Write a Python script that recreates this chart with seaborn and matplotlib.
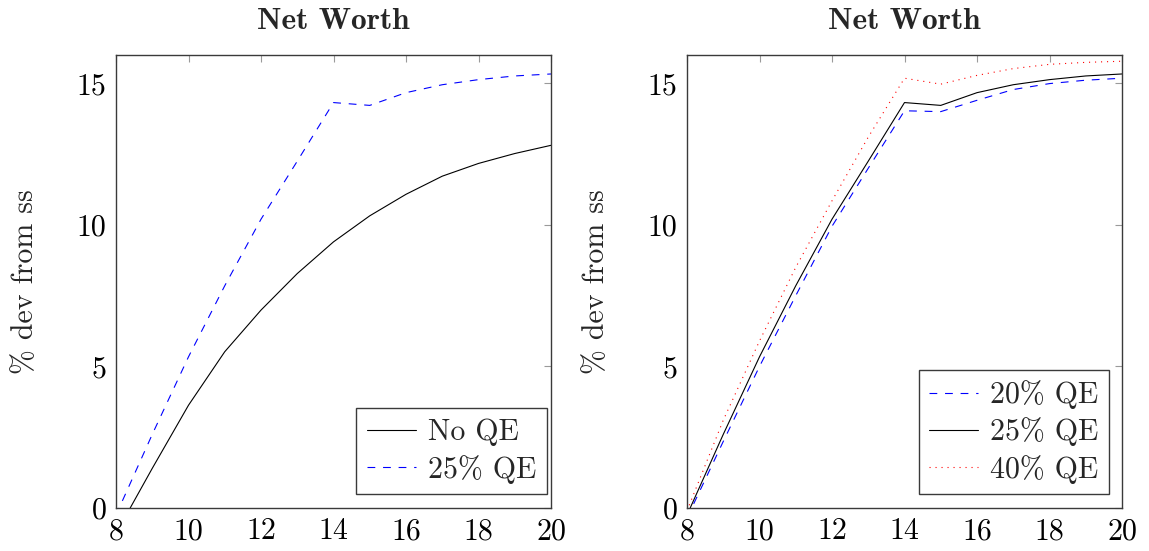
import matplotlib
matplotlib.use("Agg")
import matplotlib.pyplot as plt
import seaborn as sns
import pandas as pd

# Quarters after the shock
periods = [8, 9, 10, 11, 12, 13, 14, 15, 16, 17, 18, 19, 20]

# Net worth, % deviation from steady state
no_qe = [-0.9, 1.4, 3.63, 5.52, 6.99, 8.28, 9.40, 10.32, 11.08, 11.72, 12.17, 12.52, 12.81]
qe_20 = [-0.35, 2.35, 5.0, 7.5, 9.95, 12.0, 14.03, 14.0, 14.40, 14.78, 14.99, 15.11, 15.18]
qe_25 = [-0.25, 2.6, 5.34, 7.85, 10.2, 12.25, 14.32, 14.22, 14.67, 14.95, 15.13, 15.26, 15.33]
qe_40 = [-0.1, 3.1, 5.9, 8.5, 10.85, 13.1, 15.18, 14.97, 15.28, 15.52, 15.67, 15.74, 15.78]

x_ticks = [8, 10, 12, 14, 16, 18, 20]
y_ticks = [0, 5, 10, 15]
title = "Net Worth"
ylabel = "% dev from ss"

sns.set_style("white")
plt.rcParams["font.family"] = ["cmr10", "DejaVu Serif"]
plt.rcParams["axes.formatter.use_mathtext"] = True
plt.rcParams["mathtext.fontset"] = "cm"

FS = 21.5
W, H = 1149, 551
fig = plt.figure(figsize=(W / 100, H / 100), dpi=100)

def box(x0, x1, y0, y1):
    return [x0 / W, (H - y1) / H, (x1 - x0) / W, (y1 - y0) / H]

ax_l = fig.add_axes(box(116, 551, 55, 508))
ax_r = fig.add_axes(box(687, 1122, 55, 508))

dashed = (0, (7, 7))
dotted = (0, (1, 4.4))
LW = 0.8

left = pd.DataFrame({"t": periods, "No QE": no_qe, "25% QE": qe_25})
right = pd.DataFrame({"t": periods, "20% QE": qe_20, "25% QE": qe_25, "40% QE": qe_40})

sns.lineplot(data=left, x="t", y="No QE", ax=ax_l, color="black", lw=LW,
             label="No QE")
sns.lineplot(data=left, x="t", y="25% QE", ax=ax_l, color="#0000ff", lw=LW,
             linestyle=dashed, label="25% QE")

sns.lineplot(data=right, x="t", y="20% QE", ax=ax_r, color="#0000ff", lw=LW,
             linestyle=dashed, label="20% QE")
sns.lineplot(data=right, x="t", y="25% QE", ax=ax_r, color="black", lw=LW,
             label="25% QE")
sns.lineplot(data=right, x="t", y="40% QE", ax=ax_r, color="#ff0000", lw=LW,
             linestyle=dotted, label="40% QE")

for ax in (ax_l, ax_r):
    ax.set_xlim(8, 20)
    ax.set_ylim(0, 16)
    ax.set_xticks(x_ticks)
    ax.set_yticks(y_ticks)
    ax.set_xticklabels([str(v) for v in x_ticks])
    ax.set_yticklabels([str(v) for v in y_ticks])
    ax.tick_params(direction="in", length=5, width=0.8, color="#9a9a9a",
                   top=True, right=True, labelsize=FS, pad=7,
                   labelcolor="black")
    for sp in ax.spines.values():
        sp.set_visible(True)
        sp.set_color("#3a3a3a")
        sp.set_linewidth(1.0)
    ax.set_xlabel("")
    ax.set_ylabel(ylabel, fontsize=FS, labelpad=27)
    ax.set_title(title, fontsize=22.5, family=["cmb10", "DejaVu Serif"], pad=19)
    ax.grid(False)

leg_kw = dict(loc="lower right", fontsize=FS, frameon=True, fancybox=False,
              edgecolor="#3a3a3a", framealpha=1, handlelength=1.65,
              handletextpad=0.4, borderpad=0.35, labelspacing=0.28,
              borderaxespad=0)
lg = ax_l.legend(bbox_to_anchor=((546.7 - 116) / 435, (508 - 494) / 453), **leg_kw)
lg.get_frame().set_linewidth(1.0)
lg = ax_r.legend(bbox_to_anchor=((1109 - 687) / 435, (508 - 494) / 453), **leg_kw)
lg.get_frame().set_linewidth(1.0)

fig.savefig("out.png", dpi=100)
